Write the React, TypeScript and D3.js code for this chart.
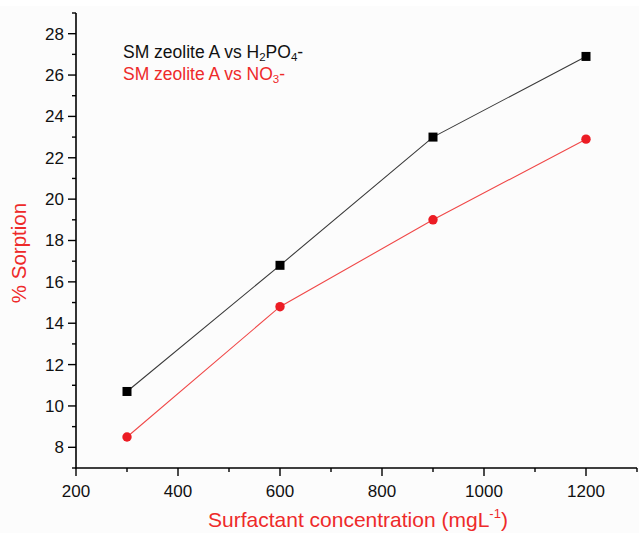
import React from "react";
import * as d3 from "d3";

const concentrations = [300, 600, 900, 1200];
const h2po4Values = [10.7, 16.8, 23.0, 26.9];
const no3Values = [8.5, 14.8, 19.0, 22.9];
const xMajorTicks = [200, 400, 600, 800, 1000, 1200];
const xMinorTicks = [300, 500, 700, 900, 1100, 1300];
const yMajorTicks = [8, 10, 12, 14, 16, 18, 20, 22, 24, 26, 28];
const yMinorTicks = [7, 9, 11, 13, 15, 17, 19, 21, 23, 25, 27, 29];

const W = 639;
const H = 533;
const FONT = "'Liberation Sans', Arial, sans-serif";

export default function App() {
  const x = d3.scaleLinear().domain([200, 1300]).range([76, 637]);
  const y = d3.scaleLinear().domain([7, 29]).range([468, 13]);
  const line = d3
    .line<number>()
    .x((_, i) => x(concentrations[i]))
    .y((d) => y(d));

  const x0 = x(200);
  const y0 = y(7);

  return (
    <svg
      width={W}
      height={H}
      style={{ position: "absolute", left: 0, top: 0, background: "#fff" }}
      fontFamily={FONT}
    >
      <rect x={0} y={6} width={W} height={H - 6} fill="#fcfcfc" />
      {/* data lines */}
      <path d={line(h2po4Values) || ""} fill="none" stroke="#3a3a3a" strokeWidth={1.1} />
      <path d={line(no3Values) || ""} fill="none" stroke="#f04848" strokeWidth={1.1} />
      {h2po4Values.map((v, i) => (
        <rect
          key={"s" + i}
          x={x(concentrations[i]) - 4.5}
          y={y(v) - 4.5}
          width={9}
          height={9}
          fill="#000"
        />
      ))}
      {no3Values.map((v, i) => (
        <circle key={"c" + i} cx={x(concentrations[i])} cy={y(v)} r={4.7} fill="#ec1c24" />
      ))}

      {/* axes */}
      <line x1={x0} x2={x0} y1={y(29)} y2={y0 + 0.5} stroke="#000" strokeWidth={1.6} />
      <line x1={x0 - 0.5} x2={x(1300)} y1={y0} y2={y0} stroke="#000" strokeWidth={1.6} />
      {yMajorTicks.map((t) => (
        <g key={"ym" + t}>
          <line x1={x0 - 8} x2={x0} y1={y(t)} y2={y(t)} stroke="#000" strokeWidth={1.4} />
          <text x={x0 - 12} y={y(t)} dy="0.35em" textAnchor="end" fontSize={17} fill="#111">
            {t}
          </text>
        </g>
      ))}
      {yMinorTicks.map((t) => (
        <line key={"yn" + t} x1={x0 - 4} x2={x0} y1={y(t)} y2={y(t)} stroke="#000" strokeWidth={1.4} />
      ))}
      {xMajorTicks.map((t) => (
        <g key={"xm" + t}>
          <line x1={x(t)} x2={x(t)} y1={y0} y2={y0 + 8} stroke="#000" strokeWidth={1.4} />
          <text x={x(t)} y={y0 + 29} textAnchor="middle" fontSize={17} fill="#111">
            {t}
          </text>
        </g>
      ))}
      {xMinorTicks.map((t) => (
        <line key={"xn" + t} x1={x(t)} x2={x(t)} y1={y0} y2={y0 + 4} stroke="#000" strokeWidth={1.4} />
      ))}

      {/* axis titles */}
      <text x={208} y={527} fontSize={21} fill="#ee2a2a">
        Surfactant concentration (mgL
        <tspan fontSize={13} dy={-9}>-1</tspan>
        <tspan dy={9}>)</tspan>
      </text>
      <text
        transform={`translate(26, 253) rotate(-90)`}
        textAnchor="middle"
        fontSize={20.5}
        fill="#ee2a2a"
      >
        % Sorption
      </text>

      {/* legend */}
      <text x={123} y={58} fontSize={17.5} fill="#111">
        SM zeolite A vs H
        <tspan fontSize={11.5} dy={3}>2</tspan>
        <tspan dy={-3}>PO</tspan>
        <tspan fontSize={11.5} dy={3}>4</tspan>
        <tspan dy={-3}>-</tspan>
      </text>
      <text x={123} y={80} fontSize={17.5} fill="#ee2a2a">
        SM zeolite A vs NO
        <tspan fontSize={11.5} dy={3}>3</tspan>
        <tspan dy={-3}>-</tspan>
      </text>
    </svg>
  );
}
